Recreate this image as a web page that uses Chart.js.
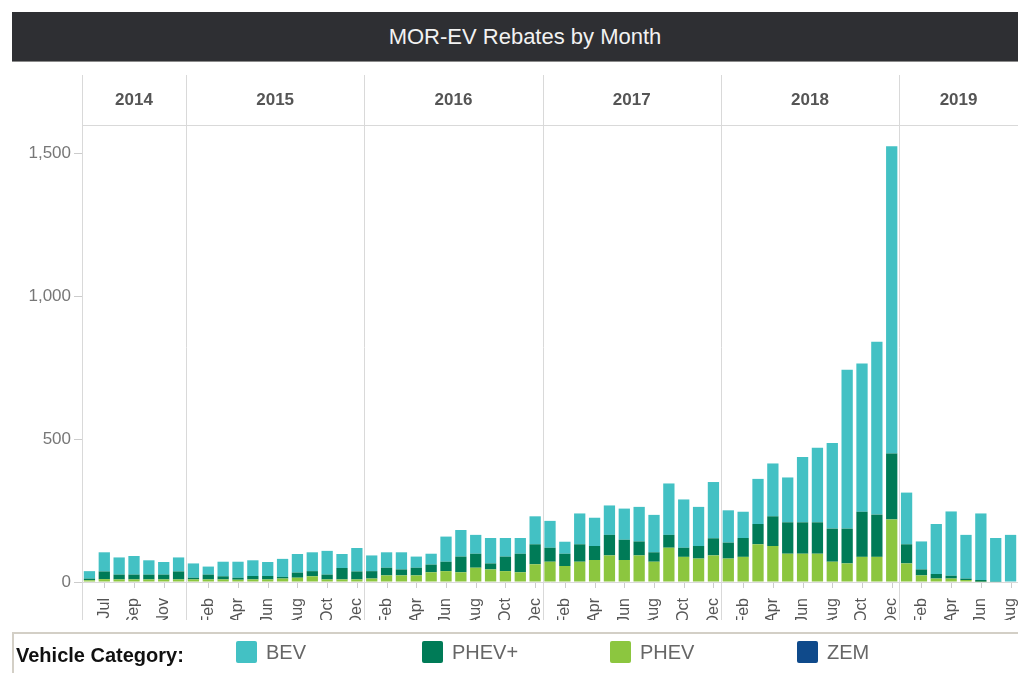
<!DOCTYPE html>
<html>
<head>
<meta charset="utf-8">
<script src="https://cdn.jsdelivr.net/npm/chart.js@4/dist/chart.umd.min.js"></script>
<style>
  html, body { margin: 0; padding: 0; background: #fff; width: 1018px; height: 673px; overflow: hidden; font-family: "Liberation Sans", Arial, sans-serif; }
  #wrap { position: relative; width: 1018px; height: 673px; }
  canvas { position: absolute; left: 0; top: 0; }
  #title { position: absolute; left: 12px; top: 12px; width: 1006px; height: 49px; background: #2e2f33; border-bottom: 1px solid #8a8a8a;
           color: #f2f2f2; font-size: 22px; line-height: 50px; text-align: center; text-indent: 20px; }
  #legend { position: absolute; left: 12px; top: 632px; width: 1006px; height: 41px; border-top: 2px solid #d3cfc6; border-left: 2px solid #d3cfc6; box-sizing: border-box; }
  #legend .lab { position: absolute; left: 2px; top: 10px; font-weight: bold; font-size: 20px; color: #111; }
  #legend .item { position: absolute; top: 7px; height: 22px; }
  #legend .sw { position: absolute; left: 0; top: 0; width: 21px; height: 22px; border-radius: 2px; }
  #legend .tx { position: absolute; left: 30px; top: 0px; font-size: 20px; color: #666; line-height: 22px; white-space: nowrap; }
</style>
</head>
<body>
<div id="wrap">
  <canvas id="c" width="1018" height="673"></canvas>
  <div id="title">MOR-EV Rebates by Month</div>
  <div id="legend"></div>
</div>
<script>
// ---- data ----
const years = ["2014", "2015", "2016", "2017", "2018", "2019"];
const monthsPerYear = [7, 12, 12, 12, 12, 8];
const months = [
  "Jun","Jul","Aug","Sep","Oct","Nov","Dec",
  "Jan","Feb","Mar","Apr","May","Jun","Jul","Aug","Sep","Oct","Nov","Dec",
  "Jan","Feb","Mar","Apr","May","Jun","Jul","Aug","Sep","Oct","Nov","Dec",
  "Jan","Feb","Mar","Apr","May","Jun","Jul","Aug","Sep","Oct","Nov","Dec",
  "Jan","Feb","Mar","Apr","May","Jun","Jul","Aug","Sep","Oct","Nov","Dec",
  "Jan","Feb","Mar","Apr","May","Jun","Jul","Aug"
];
const shownMonths = ["Feb","Apr","Jun","Aug","Oct","Dec"];
const shownMonths2014 = ["Jul","Sep","Nov"];
const PHEV = [
  6,10,9,9,9,9,9,
  9,9,9,8,9,9,12,15,20,9,9,9,
  12,23,23,23,34,38,34,50,44,38,34,62,
  71,56,71,77,93,77,93,71,120,88,82,93,
  82,88,132,126,99,99,99,71,65,88,88,219,
  65,23,12,12,7,1,0,0
];
const PHEVplus = [
  6,27,17,17,17,17,28,
  6,17,11,7,12,12,6,18,18,17,40,28,
  26,27,21,27,27,33,55,49,21,51,65,70,
  49,43,61,49,72,71,49,33,45,32,44,60,
  56,66,71,104,110,110,110,116,122,158,148,231,
  67,21,16,10,5,6,1,0
];
const BEV = [
  26,67,60,65,50,44,49,
  50,28,51,56,55,49,63,65,66,83,49,82,
  55,54,60,39,38,88,93,66,89,65,55,98,
  94,42,108,99,103,109,121,131,180,169,137,197,
  113,92,158,185,157,229,261,300,556,519,605,1076,
  181,98,175,225,153,233,153,165
];
const ZEM = new Array(months.length).fill(0);
const yTicks = [0, 500, 1000, 1500];

const colors = { BEV: "#43c1c4", "PHEV+": "#007b57", PHEV: "#8cc63f", ZEM: "#0f4a8b" };

// year index of each month
const yearOf = [];
monthsPerYear.forEach((n, yi) => { for (let k = 0; k < n; k++) yearOf.push(yi); });
const isShown = i => (yearOf[i] === 0 ? shownMonths2014 : shownMonths).includes(months[i]);

// ---- legend (HTML) ----
const legendItems = [["BEV", 222], ["PHEV+", 408], ["PHEV", 596], ["ZEM", 783]];
const lg = document.getElementById("legend");
lg.innerHTML = '<div class="lab">Vehicle Category:</div>' + legendItems.map(([n, x]) =>
  `<div class="item" style="left:${x}px"><div class="sw" style="background:${colors[n]}"></div><div class="tx">${n}</div></div>`).join("");

// ---- year header plugin ----
const yearHeader = {
  id: "yearHeader",
  afterDraw(chart) {
    const ctx = chart.ctx, xs = chart.scales.x, area = chart.chartArea;
    const step = xs.getPixelForValue(1) - xs.getPixelForValue(0);
    ctx.save();
    ctx.strokeStyle = "#d9d9d9";
    ctx.lineWidth = 1;
    ctx.beginPath();
    ctx.moveTo(area.left, 125.5); ctx.lineTo(area.right, 125.5);
    ctx.stroke();
    let idx = 0;
    const bounds = [area.left];
    monthsPerYear.forEach(n => { idx += n; bounds.push(xs.getPixelForValue(idx - 1) + step / 2); });
    bounds.slice(0, -1).forEach(b => {
      const x = Math.round(b) + 0.5;
      ctx.beginPath(); ctx.moveTo(x, 75); ctx.lineTo(x, 620); ctx.stroke();
    });
    // small tick marks below axis for labelled months
    ctx.strokeStyle = "#cccccc";
    months.forEach((m, i) => {
      if (!isShown(i)) return;
      const x = Math.round(xs.getPixelForValue(i)) + 0.5;
      ctx.beginPath(); ctx.moveTo(x, area.bottom + 1); ctx.lineTo(x, area.bottom + 6); ctx.stroke();
    });
    ctx.fillStyle = "#555";
    ctx.font = "bold 17px 'Liberation Sans', Arial, sans-serif";
    ctx.textAlign = "center"; ctx.textBaseline = "middle";
    years.forEach((y, i) => {
      const l = bounds[i], r = Math.min(bounds[i + 1], area.right);
      ctx.fillText(y, (l + r) / 2, 100);
    });
    ctx.restore();
  }
};

const mk = (label, data) => ({
  label, data, backgroundColor: colors[label], borderWidth: 0,
  categoryPercentage: 1.0, barPercentage: 0.76
});

new Chart(document.getElementById("c"), {
  type: "bar",
  data: {
    labels: months,
    datasets: [mk("PHEV", PHEV), mk("PHEV+", PHEVplus), mk("BEV", BEV), mk("ZEM", ZEM)]
  },
  options: {
    responsive: false,
    animation: false,
    layout: { padding: { left: 12, right: 0, top: 125, bottom: 53 } },
    plugins: { legend: { display: false }, title: { display: false }, tooltip: { enabled: false } },
    scales: {
      x: {
        stacked: true,
        grid: { display: false },
        border: { color: "#d9d9d9" },
        ticks: {
          autoSkip: false, maxRotation: 90, minRotation: 90, padding: 8,
          color: "#555", font: { size: 16, family: "'Liberation Sans', Arial, sans-serif" },
          callback: (v, i) => isShown(i) ? months[i] : ""
        },
        afterFit: s => { s.height = 38; s.paddingLeft = 0; s.paddingRight = 0; }
      },
      y: {
        stacked: true, min: 0, max: 1600,
        afterBuildTicks: s => { s.ticks = yTicks.map(v => ({ value: v })); },
        grid: { drawOnChartArea: false, drawTicks: true, tickLength: 8, color: "#cccccc" },
        border: { color: "#d9d9d9" },
        ticks: {
          color: "#777", padding: 3, font: { size: 17, family: "'Liberation Sans', Arial, sans-serif" },
          callback: v => v.toLocaleString("en-US")
        },
        afterFit: s => { s.width = 70; s.paddingTop = 0; s.paddingBottom = 0; }
      }
    }
  },
  plugins: [yearHeader]
});
</script>
</body>
</html>
